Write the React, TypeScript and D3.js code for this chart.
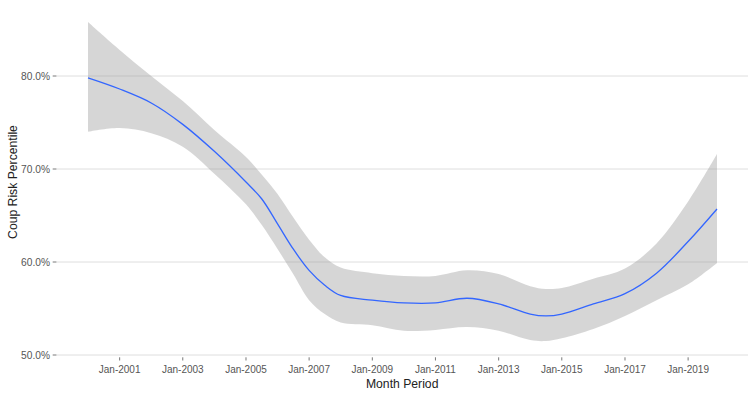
import React from "react";
import * as d3 from "d3";

const months = [
  "2000-01", "2001-01", "2002-01", "2003-01", "2004-01", "2005-01", "2005-07",
  "2006-01", "2006-07", "2007-01", "2007-07", "2008-01", "2009-01", "2010-01",
  "2011-01", "2012-01", "2013-01", "2014-01", "2014-07", "2015-01", "2016-01",
  "2017-01", "2018-01", "2019-01", "2019-12",
];
const fitValues = [
  79.8, 78.6, 77.1, 74.8, 71.9, 68.6, 66.8,
  64.1, 61.4, 59.1, 57.5, 56.4, 55.9, 55.6,
  55.6, 56.1, 55.5, 54.4, 54.2, 54.4, 55.5,
  56.6, 58.8, 62.2, 65.7,
];
const upperValues = [
  85.8, 82.8, 80.0, 77.3, 74.2, 71.3, 69.4,
  67.3, 64.8, 62.4, 60.5, 59.4, 58.8, 58.5,
  58.5, 59.1, 58.7, 57.4, 57.1, 57.2, 58.2,
  59.3, 62.0, 66.5, 71.6,
];
const lowerValues = [
  74.0, 74.4, 73.85, 72.4, 69.5, 66.2, 64.0,
  61.4, 58.7, 55.9, 54.4, 53.5, 53.2, 52.6,
  52.7, 53.0, 52.6, 51.6, 51.5, 51.8, 52.8,
  54.2, 55.9, 57.6, 59.9,
];
const yTicks = [50, 60, 70, 80];
const xTickYears = [2001, 2003, 2005, 2007, 2009, 2011, 2013, 2015, 2017, 2019];

const W = 754;
const H = 396;
const FONT = "'Liberation Sans', Arial, sans-serif";

export default function App() {
  const parse = d3.timeParse("%Y-%m");
  const data = months.map((m, i) => ({
    date: parse(m) as Date,
    fit: fitValues[i],
    hi: upperValues[i],
    lo: lowerValues[i],
  }));

  const x = d3
    .scaleTime()
    .domain([data[0].date, data[data.length - 1].date])
    .range([88, 717]);
  const y = d3.scaleLinear().domain([50, 80]).range([355, 76]);

  const panelLeft = 56.4;
  const panelRight = 748;
  const panelBottom = 357.3;

  const curve = d3.curveCatmullRom.alpha(0.5);
  const area = d3
    .area<any>()
    .x((d) => x(d.date))
    .y0((d) => y(d.lo))
    .y1((d) => y(d.hi))
    .curve(curve);
  const line = d3
    .line<any>()
    .x((d) => x(d.date))
    .y((d) => y(d.fit))
    .curve(curve);

  const fmt = d3.timeFormat("%b-%Y");
  const xTicks = xTickYears.map((yr) => new Date(yr, 0, 1));

  return (
    <svg
      width={W}
      height={H}
      style={{ position: "absolute", left: 0, top: 0, display: "block", background: "#fff" }}
      fontFamily={FONT}
    >
      {yTicks.map((t) => (
        <g key={t}>
          <line x1={panelLeft} x2={panelRight} y1={y(t)} y2={y(t)} stroke="#dedede" strokeWidth={1} />
          <line x1={panelLeft - 3.7} x2={panelLeft} y1={y(t)} y2={y(t)} stroke="#555" strokeWidth={0.8} />
          <text x={50} y={y(t)} dy="0.35em" textAnchor="end" fontSize={10.2} fill="#555">
            {d3.format(".1f")(t) + "%"}
          </text>
        </g>
      ))}
      {xTicks.map((d, i) => (
        <g key={i}>
          <line x1={x(d)} x2={x(d)} y1={panelBottom} y2={panelBottom + 3.2} stroke="#555" strokeWidth={0.8} />
          <text x={x(d)} y={373} textAnchor="middle" fontSize={10} fill="#555">
            {fmt(d)}
          </text>
        </g>
      ))}
      <path d={area(data) as string} fill="#999999" fillOpacity={0.4} stroke="none" />
      <path d={line(data) as string} fill="none" stroke="#3366FF" strokeWidth={1.3} />
      <text x={(panelLeft + panelRight) / 2} y={388} textAnchor="middle" fontSize={12.2} fill="#222">
        Month Period
      </text>
      <text
        transform={`translate(17, 182) rotate(-90)`}
        textAnchor="middle"
        fontSize={12.2}
        fill="#222"
      >
        Coup Risk Percentile
      </text>
    </svg>
  );
}
